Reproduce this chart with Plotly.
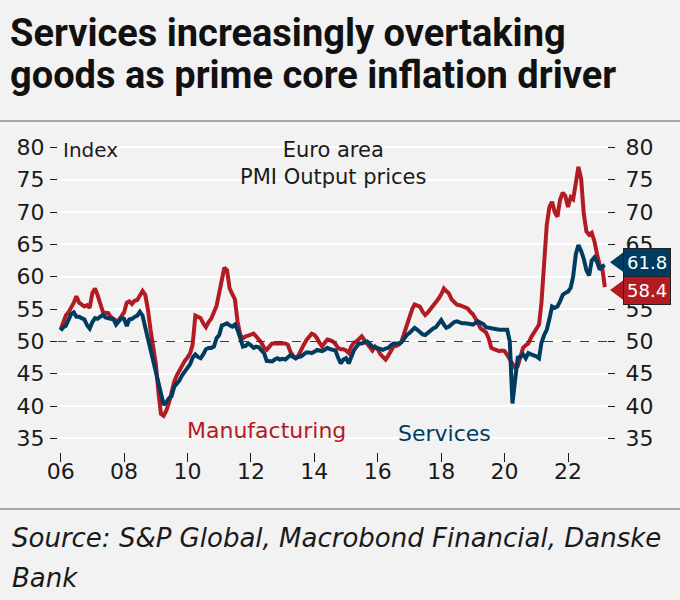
import plotly.graph_objects as go
import pandas as pd

# ---- data (monthly, Jan 2006 - Mar 2023) ----
manufacturing = [
    51.8, 53.0, 54.0, 54.5, 55.2, 56.0, 57.0, 56.0, 55.7, 55.4, 55.6, 55.2,
    57.5, 58.2, 57.2, 55.8, 54.6, 54.4, 54.4, 53.8, 53.5, 53.2, 53.3, 53.8,
    54.5, 56.0, 56.2, 55.8, 56.3, 56.4, 57.2, 57.8, 57.2, 55.0, 51.8, 49.5,
    46.5, 42.0, 38.8, 38.5, 39.3, 40.5, 42.5, 43.8, 44.8, 45.5, 46.5, 47.0,
    47.5, 48.2, 49.5, 54.0, 53.8, 53.6, 52.8, 52.2, 53.0, 53.5, 54.5, 55.5,
    57.5, 60.0, 61.4, 61.0, 58.2, 57.3, 56.5, 53.0, 51.0, 50.5, 50.8, 50.9,
    51.0, 51.2, 50.8, 50.4, 49.8, 49.0, 48.7, 49.2, 49.7, 49.7, 49.7, 49.7,
    49.8, 49.7, 49.5, 48.4, 47.8, 47.4, 47.8, 48.5, 49.5, 50.2, 50.8, 51.2,
    51.0, 50.5, 49.8, 49.2, 49.8, 50.3, 50.2, 50.0, 49.6, 49.0, 48.8, 48.8,
    48.6, 48.2, 49.2, 49.8, 50.0, 50.5, 50.8, 50.2, 49.6, 49.0, 48.6, 49.2,
    48.8, 48.0, 47.5, 47.2, 47.8, 48.6, 49.2, 49.3, 49.5, 50.0, 51.3, 52.5,
    53.8, 55.0, 55.7, 55.6, 55.4, 54.6, 54.1, 54.5, 55.0, 55.6, 56.2, 56.6,
    57.3, 58.2, 57.8, 57.4, 56.5, 56.0, 55.7, 55.6, 55.4, 55.3, 55.1, 54.6,
    54.2, 53.5, 52.8, 52.0, 51.7, 51.4, 50.5, 49.0, 48.8, 48.6, 48.5, 48.6,
    48.5, 47.9, 47.3, 46.5, 45.9, 46.2, 47.8, 49.0, 49.4, 49.7, 50.6, 51.3,
    52.0, 52.6, 56.0, 62.5, 68.0, 70.8, 71.6, 70.0, 69.3, 71.9, 73.0, 72.5,
    70.8, 72.3, 72.0, 74.5, 77.0, 75.2, 69.8, 67.0, 66.5, 66.8, 65.5, 63.5,
    61.8, 61.2, 58.4,
]
services = [
    51.7, 52.2, 52.4, 53.2, 54.2, 54.5, 53.8, 53.8, 53.6, 53.4, 52.5, 52.0,
    53.0, 53.6, 53.5, 53.8, 54.1, 53.7, 53.6, 53.5, 53.4, 52.6, 53.0, 53.6,
    53.5, 52.4, 53.4, 53.5, 53.8, 54.0, 54.6, 54.0, 52.2, 50.5, 48.5, 46.5,
    45.3, 43.0, 41.5, 40.2, 40.6, 41.2, 41.5, 43.0, 43.5, 44.0, 44.8, 45.3,
    45.8, 46.5, 47.5, 48.0, 47.6, 47.4, 48.0, 48.8, 49.0, 49.0, 49.2, 50.5,
    51.0, 52.5, 52.6, 52.8, 52.5, 52.3, 52.6, 51.8, 50.5, 49.2, 49.3, 49.7,
    49.4, 49.0, 49.2, 49.1, 48.6, 48.2, 47.0, 46.9, 46.9, 47.2, 47.4, 47.2,
    47.3, 47.2, 47.6, 47.9, 47.6, 47.4, 47.6, 47.7, 48.0, 48.3, 48.3, 48.2,
    48.4, 48.7, 48.6, 48.5, 48.7, 49.0, 48.8, 48.7, 48.6, 47.5, 46.6, 47.2,
    47.4, 46.6, 47.6, 48.6, 49.2, 49.7, 49.7, 49.8, 50.0, 49.6, 49.2, 49.1,
    49.0, 48.9, 48.7, 48.9, 49.0, 49.4, 49.7, 49.7, 49.7, 49.9, 50.6, 51.0,
    51.3, 51.8, 52.1, 51.8, 51.5, 51.1, 51.0, 51.4, 51.8, 52.0, 52.2, 52.8,
    53.3, 52.6, 52.1, 52.3, 52.6, 53.0, 53.1, 52.9, 52.8, 52.8, 52.8, 52.7,
    52.6, 52.9, 53.1, 52.9, 52.7, 52.2, 52.1, 52.1, 51.9, 51.8, 51.8, 51.8,
    51.8, 51.8, 50.0, 40.4, 44.0, 47.5, 47.6, 48.0, 47.4, 48.2, 48.0, 47.9,
    47.7, 47.4, 49.8, 51.0, 51.8, 53.5, 55.4, 55.2, 55.4, 56.2, 57.2, 57.5,
    57.7, 58.3, 60.0, 63.5, 64.9, 64.0, 62.8, 61.0, 60.2, 62.5, 63.0, 62.3,
    61.1, 61.6, 61.8,
]
dates = pd.date_range("2006-01-01", periods=len(manufacturing), freq="MS")

x_tick_vals = [f"{y}-01-01" for y in range(2006, 2024, 2)]
x_tick_text = ["06", "08", "10", "12", "14", "16", "18", "20", "22"]
y_ticks = [35, 40, 45, 50, 55, 60, 65, 70, 75, 80]

RED = "#b31b23"
BLUE = "#003c60"
BG = "#f2f2f2"
TXT = "#1a1a1a"
FONT = "DejaVu Sans"

# plot-area geometry (px)
T, B = 141, 452
H = B - T

fig = go.Figure()
fig.add_trace(go.Scatter(x=dates, y=manufacturing, mode="lines",
                         line=dict(color=RED, width=4), name="Manufacturing"))
fig.add_trace(go.Scatter(x=dates, y=services, mode="lines",
                         line=dict(color=BLUE, width=4), name="Services"))
# invisible trace for right axis
fig.add_trace(go.Scatter(x=dates, y=services, mode="lines", yaxis="y2",
                         line=dict(width=0), opacity=0, hoverinfo="skip",
                         showlegend=False))

yrange = [32.9, 81]
fig.update_layout(
    width=680, height=600,
    paper_bgcolor=BG, plot_bgcolor=BG,
    margin=dict(l=58, r=73, t=T, b=600 - B),
    showlegend=False,
    font=dict(family=FONT, color=TXT, size=19),
    xaxis=dict(
        type="date",
        range=["2005-12-01", "2023-03-26"],
        tickvals=x_tick_vals, ticktext=x_tick_text,
        showgrid=False, zeroline=False, showline=False,
        ticks="outside", ticklen=9, tickcolor=TXT, tickwidth=1,
        ticklabelstandoff=-9,
        tickfont=dict(size=22, family=FONT, color=TXT),
    ),
    yaxis=dict(
        range=yrange, tickvals=y_ticks,
        showgrid=True, gridcolor="#ffffff", gridwidth=2,
        zeroline=False, showline=False,
        ticks="outside", ticklen=7, tickcolor=TXT, tickwidth=1,
        ticklabelstandoff=1,
        tickfont=dict(size=22, family=FONT, color=TXT),
    ),
    yaxis2=dict(
        range=yrange, tickvals=y_ticks, overlaying="y", side="right",
        showgrid=False, zeroline=False, showline=False,
        ticks="outside", ticklen=7, tickcolor=TXT, tickwidth=1,
        ticklabelstandoff=6,
        tickfont=dict(size=22, family=FONT, color=TXT),
    ),
)

# dashed 50 line
fig.add_shape(type="line", xref="paper", x0=0, x1=1, yref="y", y0=50, y1=50,
              line=dict(color="#333333", width=1, dash="dash"))
# rules
for py in [121, 509]:
    ry = (B - py) / H
    fig.add_shape(type="line", xref="paper", yref="paper",
                  x0=-58 / 549, x1=(680 - 58) / 549, y0=ry, y1=ry,
                  line=dict(color="#a8a8a8", width=2))

# title (two lines)
for txt, cy in [("Services increasingly overtaking", 33),
                ("goods as prime core inflation driver", 75)]:
    fig.add_annotation(text=f"<b>{txt}</b>", xref="paper", yref="paper",
                       x=(8 - 58) / 549, y=(B - cy) / H, xanchor="left", yanchor="middle",
                       showarrow=False, font=dict(family="Roboto", size=38, color="#111111"))

# text annotations
fig.add_annotation(text="Index", xref="paper", yref="paper", x=0.006, y=(B - 150) / H,
                   xanchor="left", yanchor="middle", showarrow=False,
                   font=dict(size=20, family=FONT, color=TXT))
fig.add_annotation(text="Euro area<br>PMI Output prices", xref="paper", yref="paper",
                   x=(333 - 58) / 549, y=(B - 163) / H, xanchor="center", yanchor="middle",
                   showarrow=False, font=dict(size=21, family=FONT, color=TXT))
fig.add_annotation(text="Manufacturing", xref="paper", yref="paper",
                   x=(266 - 58) / 549, y=(B - 430) / H, xanchor="center", yanchor="middle",
                   showarrow=False, font=dict(size=22, family=FONT, color=RED))
fig.add_annotation(text="Services", xref="paper", yref="paper",
                   x=(444 - 58) / 549, y=(B - 433) / H, xanchor="center", yanchor="middle",
                   showarrow=False, font=dict(size=22, family=FONT, color=BLUE))
for txt, cy in [("Source: S&P Global, Macrobond Financial, Danske", 538),
                ("Bank", 578)]:
    fig.add_annotation(text=f"<i>{txt}</i>", xref="paper", yref="paper",
                       x=(10 - 58) / 549, y=(B - cy) / H,
                       xanchor="left", yanchor="middle", align="left", showarrow=False,
                       font=dict(size=26, family=FONT, color=TXT))

# end value labels with pointers
for vals, col, shift in [(services, BLUE, 3), (manufacturing, RED, -3)]:
    v = vals[-1]
    fig.add_annotation(text=f"{v:.1f}", xref="paper", yref="y", x=(623 - 58) / 549, y=v,
                       yshift=shift, xanchor="left", yanchor="middle", showarrow=False,
                       bgcolor=col, bordercolor="#222222", borderwidth=1, borderpad=3,
                       font=dict(size=18, family=FONT, color="#ffffff"))
    dv = shift / 6.466
    tip = (610 - 58) / 549
    base = (624 - 58) / 549
    fig.add_shape(type="path", xref="paper", yref="y",
                  path=f"M {tip},{v + dv} L {base},{v + dv + 1.6} L {base},{v + dv - 1.6} Z",
                  fillcolor=col, line=dict(color=col, width=0))

fig.write_html(
    "out.html",
    config={"displayModeBar": False},
    post_script="document.body.style.margin='0';document.body.style.background='#f2f2f2';"
                "document.documentElement.style.overflow='hidden';",
)
